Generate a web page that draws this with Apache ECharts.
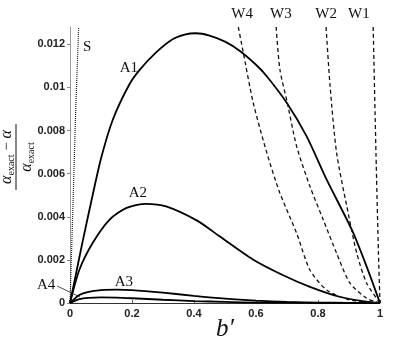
<!DOCTYPE html>
<html>
<head>
<meta charset="utf-8">
<script src="https://cdn.jsdelivr.net/npm/echarts@6/dist/echarts.min.js"></script>
<style>
html, body { margin: 0; padding: 0; background: #fff; }
#chart { width: 402px; height: 342px; }
</style>
</head>
<body>
<div id="chart"></div>
<script>
// tick labels
const xTicks = [0, 0.2, 0.4, 0.6, 0.8, 1];
const yTicks = [0, 0.002, 0.004, 0.006, 0.008, 0.01, 0.012];

// S (dotted)
const sB = [0, 0.0095, 0.0185, 0.028];
const sV = [0, 0.0045, 0.009, 0.0128];

// A1..A4 (solid)
const a1B = [0, 0.02, 0.04, 0.07, 0.1, 0.138, 0.19, 0.224, 0.277, 0.331, 0.37, 0.406, 0.45, 0.5, 0.548, 0.6, 0.634, 0.699, 0.763, 0.828, 0.909, 0.957, 1];
const a1V = [0, 0.0014, 0.0028, 0.0048, 0.0067, 0.0085, 0.0101, 0.0108, 0.01161, 0.01223, 0.01245, 0.01251, 0.0124, 0.01212, 0.01169, 0.01105, 0.01053, 0.00929, 0.00774, 0.00572, 0.0034, 0.00169, 0];
const a2B = [0, 0.03, 0.073, 0.127, 0.181, 0.245, 0.31, 0.41, 0.48, 0.59, 0.686, 0.772, 0.869, 0.955, 1];
const a2V = [0, 0.00153, 0.00278, 0.00386, 0.0044, 0.0046, 0.00448, 0.00382, 0.00312, 0.00202, 0.0013, 0.00076, 0.00029, 0.00006, 0];
const a3B = [0, 0.03, 0.06, 0.1, 0.15, 0.2, 0.3, 0.4, 0.5, 0.6, 0.7, 0.8, 0.9, 1];
const a3V = [0, 0.00037, 0.00052, 0.0006, 0.00062, 0.0006, 0.00048, 0.00033, 0.0002, 0.00011, 0.00005, 0.00002, 0.00001, 0];
const a4B = [0, 0.03, 0.06, 0.1, 0.15, 0.2, 0.3, 0.4, 0.5, 0.6, 0.8, 1];
const a4V = [0, 0.00018, 0.00024, 0.00026, 0.00025, 0.00022, 0.00015, 0.00009, 0.00005, 0.00002, 0.00001, 0];

// W1..W4 (dashed)
const w4B = [0.543, 0.559, 0.591, 0.635, 0.677, 0.731, 0.774, 0.828, 0.903, 1];
const w4V = [0.0128, 0.01161, 0.00929, 0.00696, 0.0051, 0.00324, 0.00153, 0.0006, 0.00014, 0];
const w3B = [0.665, 0.677, 0.701, 0.731, 0.774, 0.817, 0.86, 0.903, 0.957, 1];
const w3V = [0.0128, 0.01084, 0.00929, 0.00727, 0.00541, 0.00386, 0.00231, 0.00092, 0.00022, 0];
const w2B = [0.826, 0.839, 0.86, 0.893, 0.925, 0.957, 1];
const w2V = [0.0128, 0.01006, 0.00696, 0.00448, 0.00231, 0.00092, 0];
const w1B = [0.978, 0.987, 0.995, 1];
const w1V = [0.0128, 0.00696, 0.00231, 0];

// curve labels, anchored in data space
const labelText = ['S', 'A1', 'A2', 'A3', 'A4', 'W4', 'W3', 'W2', 'W1'];
const labelB = [0.055, 0.19, 0.219, 0.174, -0.077, 0.555, 0.68, 0.826, 0.932];
const labelV = [0.01186, 0.01088, 0.00512, 0.00098, 0.00084, 0.0134, 0.0134, 0.0134, 0.0134];
// A4 pointer
const leaderB = [-0.042, 0.032];
const leaderV = [0.00079, 0.00028];

const zip = (xs, ys) => xs.map((x, i) => [x, ys[i]]);

const solid = { color: '#000', width: 1.8 };
const dashed = { color: '#111', width: 1.3, type: [4, 3] };
const dotted = { color: '#222', width: 1.2, type: [1, 1] };

function curve(name, xs, ys, style, smooth) {
    return {
        name: name,
        type: 'line',
        data: zip(xs, ys),
        symbol: 'none',
        smooth: smooth,
        lineStyle: style,
        silent: true
    };
}

const chart = echarts.init(document.getElementById('chart'));
chart.setOption({
    animation: false,
    grid: { left: 70, right: 22, top: 27, bottom: 39, outerBoundsMode: 'none', containLabel: false },
    xAxis: {
        type: 'value',
        min: 0,
        max: 1,
        interval: 0.2,
        name: 'b\u2032',
        nameLocation: 'middle',
        nameGap: 14,
        nameMoveOverlap: false,
        nameTextStyle: { fontFamily: 'Liberation Serif', fontStyle: 'italic', fontSize: 25, color: '#111' },
        axisLine: { lineStyle: { color: '#333', width: 1 } },
        axisTick: { inside: true, length: 3, lineStyle: { color: '#666' } },
        axisLabel: {
            margin: 5,
            fontFamily: 'Liberation Sans',
            fontWeight: 'bold',
            fontSize: 11,
            color: '#222',
            formatter: v => String(v)
        },
        splitLine: { show: false }
    },
    yAxis: {
        type: 'value',
        min: 0,
        max: 0.0128,
        interval: 0.002,
        axisLine: { show: true, lineStyle: { color: '#999', width: 1 } },
        axisTick: { show: true, length: 3, lineStyle: { color: '#888' }, customValues: yTicks },
        axisLabel: {
            margin: 5,
            fontFamily: 'Liberation Sans',
            fontWeight: 'bold',
            fontSize: 11,
            color: '#222',
            customValues: yTicks,
            formatter: v => yTicks.some(t => Math.abs(t - v) < 1e-9) ? String(+v.toFixed(3)) : ''
        },
        splitLine: { show: false }
    },
    series: [
        curve('S', sB, sV, dotted, false),
        curve('A1', a1B, a1V, solid, 0.25),
        curve('A2', a2B, a2V, solid, 0.25),
        curve('A3', a3B, a3V, solid, 0.25),
        curve('A4', a4B, a4V, solid, 0.25),
        curve('W4', w4B, w4V, dashed, 0.25),
        curve('W3', w3B, w3V, dashed, 0.25),
        curve('W2', w2B, w2V, dashed, 0.25),
        curve('W1', w1B, w1V, dashed, 0.25)
    ]
});

const px = (b, v) => chart.convertToPixel({ gridIndex: 0 }, [b, v]);
const serif = '15px "Liberation Serif"';
const graphics = labelText.map((t, i) => {
    const p = px(labelB[i], labelV[i]);
    return {
        type: 'text',
        x: p[0],
        y: p[1],
        style: { text: t, font: serif, fill: '#111', align: 'center', verticalAlign: 'middle' }
    };
});
const l0 = px(leaderB[0], leaderV[0]);
const l1 = px(leaderB[1], leaderV[1]);
graphics.push({
    type: 'line',
    shape: { x1: l0[0], y1: l0[1], x2: l1[0], y2: l1[1] },
    style: { stroke: '#222', lineWidth: 0.8 }
});

// y-axis title as a fraction, rotated
const rich = {
    i: { fontFamily: 'Liberation Serif', fontStyle: 'italic', fontSize: 16, fill: '#111' },
    s: { fontFamily: 'Liberation Serif', fontSize: 10, fill: '#111', padding: [9, 0, 0, 0] },
    n: { fontFamily: 'Liberation Serif', fontSize: 15, fill: '#111' }
};
graphics.push({
    type: 'group',
    x: 16,
    y: 157,
    rotation: Math.PI / 2,
    children: [
        { type: 'text', x: 0, y: -9, style: { text: '{i|α}{s|exact}{n| − }{i|α}', rich: rich, align: 'center', verticalAlign: 'middle' } },
        { type: 'line', shape: { x1: -33, y1: 0, x2: 33, y2: 0 }, style: { stroke: '#111', lineWidth: 1 } },
        { type: 'text', x: 0, y: 11, style: { text: '{i|α}{s|exact}', rich: rich, align: 'center', verticalAlign: 'middle' } }
    ]
});
chart.setOption({ graphic: graphics });
</script>
</body>
</html>
